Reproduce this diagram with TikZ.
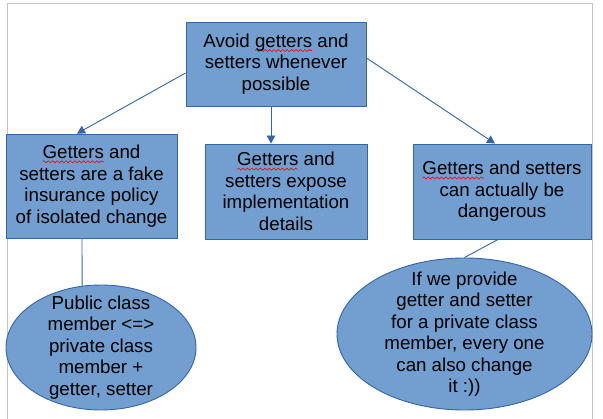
\documentclass[tikz,border=0pt]{standalone}
\usepackage{fontspec}
\setmainfont{Liberation Sans}
\usetikzlibrary{arrows.meta,shapes.geometric,calc,decorations.pathmorphing}
\definecolor{boxfill}{HTML}{729FCF}
\definecolor{boxline}{HTML}{3465A4}
\definecolor{pageline}{HTML}{C4C4C4}
\newsavebox\spbox
\newlength\splen
\newcommand\spellerr[1]{\sbox\spbox{#1}\setlength\splen{\wd\spbox}\rlap{\tikz[baseline=0pt]{\useasboundingbox (0pt,0pt);\draw[red,line width=0.6pt,decorate,decoration={snake,amplitude=1pt,segment length=4.4pt}] (0pt,-3.2pt) -- (\splen,-3.2pt);}}\usebox\spbox}
\begin{document}
\begin{tikzpicture}[x=1pt,y=-1pt,
  txt/.style={font=\fontsize{18.7}{21.5}\selectfont, align=center, text=black, inner sep=0pt},
  box/.style={txt, draw=boxline, fill=boxfill, line width=0.9pt, rectangle},
  oval/.style={draw=boxline, fill=boxfill, line width=0.9pt, ellipse, inner sep=0pt},
  conn/.style={draw=boxline, line width=0.9pt},
  arr/.style={conn, -{Triangle[length=8pt,width=8.5pt]}}]
\useasboundingbox (0,0) rectangle (603,419);
\draw[pageline, line width=0.8pt] (7,419) -- (7,3) -- (592,3) -- (592,419);

\node[box, minimum width=180pt, minimum height=84pt] (top) at (276,64)
  {Avoid \spellerr{getters} and\\setters whenever\\possible};
\node[box, minimum width=171pt, minimum height=104pt] (b1) at (91.5,186)
  {\spellerr{Getters} and\\setters are a fake\\insurance policy\\of isolated change};
\node[box, minimum width=162pt, minimum height=95pt] (b2) at (286,191.5)
  {\spellerr{Getters} and\\setters expose\\implementation\\details};
\node[box, minimum width=178pt, minimum height=95pt] (b3) at (502,191.5)
  {\spellerr{Getters} and setters\\can actually be\\dangerous};

\node[oval, minimum width=190pt, minimum height=125pt] (e1) at (101,347.5) {};
\node[txt] (t1) at (e1.center) {Public class\\member <=>\\private class\\member +\\getter, setter};
\node[oval, minimum width=255pt, minimum height=152pt] (e2) at (464.5,334) {};
\node[txt] (t2) at (e2.center) {If we provide\\getter and setter\\for a private class\\member, every one\\can also change\\it :))};

\draw[arr] ($(top.west)+(0,9)$) -- ($(b1.north)+(-14.5,0)$);
\draw[arr] ($(top.south)+(-5,0)$) -- ($(b2.north)+(-15,0)$);
\draw[arr] ($(top.east)+(0,-6)$) -- ($(b3.north)+(-7,0)$);
\draw[conn] ($(b1.south)+(-9.5,0)$) -- (e1.107);
\draw[conn] ($(b3.south)+(-4,0)$) -- (e2.north);
\end{tikzpicture}
\end{document}
